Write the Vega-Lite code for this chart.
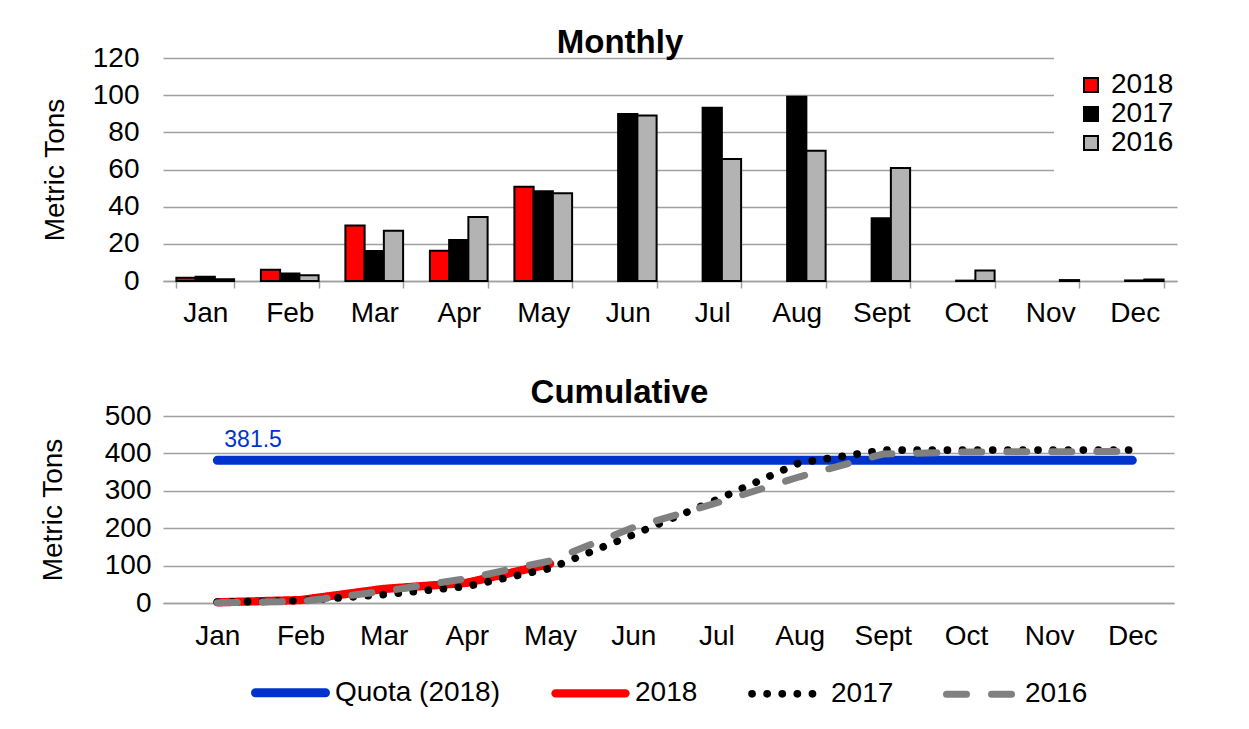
{
  "$schema": "https://vega.github.io/schema/vega-lite/v6.json",
  "background": "white",
  "padding": {"left": 39, "top": 27, "right": 0, "bottom": 0},
  "config": {
    "font": "Liberation Sans",
    "view": {"stroke": null},
    "axis": {
      "labelFont": "Liberation Sans",
      "labelFontSize": 28,
      "labelColor": "#000000",
      "titleFont": "Liberation Sans",
      "titleFontSize": 28,
      "titleFontWeight": "normal",
      "titleColor": "#000000",
      "gridColor": "#a0a0a0",
      "gridWidth": 1.5,
      "domainColor": "#a0a0a0",
      "domainWidth": 1.5,
      "tickColor": "#a0a0a0",
      "tickWidth": 1.5
    },
    "legend": {"labelFont": "Liberation Sans", "labelFontSize": 28, "labelColor": "#000000", "labelLimit": 400},
    "title": {"font": "Liberation Sans", "fontSize": 33, "fontWeight": "bold", "color": "#000000"}
  },
  "datasets": {
    "monthly": [
      {"month": "Jan", "year": "2018", "tons": 1.8},
      {"month": "Jan", "year": "2017", "tons": 2.3},
      {"month": "Jan", "year": "2016", "tons": 0.9},
      {"month": "Feb", "year": "2018", "tons": 6.0},
      {"month": "Feb", "year": "2017", "tons": 4.0},
      {"month": "Feb", "year": "2016", "tons": 3.1},
      {"month": "Mar", "year": "2018", "tons": 29.8},
      {"month": "Mar", "year": "2017", "tons": 16.1},
      {"month": "Mar", "year": "2016", "tons": 27.1},
      {"month": "Apr", "year": "2018", "tons": 16.3},
      {"month": "Apr", "year": "2017", "tons": 22.0},
      {"month": "Apr", "year": "2016", "tons": 34.5},
      {"month": "May", "year": "2018", "tons": 50.7},
      {"month": "May", "year": "2017", "tons": 48.3},
      {"month": "May", "year": "2016", "tons": 47.2},
      {"month": "Jun", "year": "2017", "tons": 89.9},
      {"month": "Jun", "year": "2016", "tons": 89.0},
      {"month": "Jul", "year": "2017", "tons": 93.2},
      {"month": "Jul", "year": "2016", "tons": 65.6},
      {"month": "Aug", "year": "2017", "tons": 99.1},
      {"month": "Aug", "year": "2016", "tons": 70.1},
      {"month": "Sept", "year": "2017", "tons": 33.7},
      {"month": "Sept", "year": "2016", "tons": 60.8},
      {"month": "Oct", "year": "2017", "tons": 0.2},
      {"month": "Oct", "year": "2016", "tons": 5.6},
      {"month": "Nov", "year": "2016", "tons": 0.5},
      {"month": "Dec", "year": "2017", "tons": 0.3},
      {"month": "Dec", "year": "2016", "tons": 0.8}
    ],
    "cumulative": [
      {"month": "Jan", "series": "Quota (2018)", "value": 381.5},
      {"month": "Feb", "series": "Quota (2018)", "value": 381.5},
      {"month": "Mar", "series": "Quota (2018)", "value": 381.5},
      {"month": "Apr", "series": "Quota (2018)", "value": 381.5},
      {"month": "May", "series": "Quota (2018)", "value": 381.5},
      {"month": "Jun", "series": "Quota (2018)", "value": 381.5},
      {"month": "Jul", "series": "Quota (2018)", "value": 381.5},
      {"month": "Aug", "series": "Quota (2018)", "value": 381.5},
      {"month": "Sept", "series": "Quota (2018)", "value": 381.5},
      {"month": "Oct", "series": "Quota (2018)", "value": 381.5},
      {"month": "Nov", "series": "Quota (2018)", "value": 381.5},
      {"month": "Dec", "series": "Quota (2018)", "value": 381.5},
      {"month": "Jan", "series": "2018", "value": 1.8},
      {"month": "Feb", "series": "2018", "value": 7.8},
      {"month": "Mar", "series": "2018", "value": 37.6},
      {"month": "Apr", "series": "2018", "value": 53.9},
      {"month": "May", "series": "2018", "value": 104.6},
      {"month": "Jan", "series": "2017", "value": 2.3},
      {"month": "Feb", "series": "2017", "value": 6.3},
      {"month": "Mar", "series": "2017", "value": 22.4},
      {"month": "Apr", "series": "2017", "value": 44.4},
      {"month": "May", "series": "2017", "value": 92.7},
      {"month": "Jun", "series": "2017", "value": 182.6},
      {"month": "Jul", "series": "2017", "value": 275.8},
      {"month": "Aug", "series": "2017", "value": 374.9},
      {"month": "Sept", "series": "2017", "value": 408.6},
      {"month": "Oct", "series": "2017", "value": 408.8},
      {"month": "Nov", "series": "2017", "value": 408.8},
      {"month": "Dec", "series": "2017", "value": 409.1},
      {"month": "Jan", "series": "2016", "value": 0.9},
      {"month": "Feb", "series": "2016", "value": 4.0},
      {"month": "Mar", "series": "2016", "value": 31.1},
      {"month": "Apr", "series": "2016", "value": 65.6},
      {"month": "May", "series": "2016", "value": 112.8},
      {"month": "Jun", "series": "2016", "value": 201.8},
      {"month": "Jul", "series": "2016", "value": 267.4},
      {"month": "Aug", "series": "2016", "value": 337.5},
      {"month": "Sept", "series": "2016", "value": 398.3},
      {"month": "Oct", "series": "2016", "value": 403.9},
      {"month": "Nov", "series": "2016", "value": 404.4},
      {"month": "Dec", "series": "2016", "value": 405.2}
    ]
  },
  "columns": 1,
  "spacing": 50,
  "resolve": {
    "scale": {"x": "independent", "y": "independent", "color": "independent", "strokeDash": "independent", "strokeWidth": "independent"},
    "legend": {"color": "independent", "strokeDash": "independent", "strokeWidth": "independent"}
  },
  "concat": [
    {
      "width": 1014,
      "height": 223,
      "title": {"text": "Monthly", "baseline": "alphabetic", "offset": -42, "dx": -50},
      "data": {"name": "monthly"},
      "mark": {"type": "bar", "stroke": "#000000", "strokeWidth": 2},
      "encoding": {
        "x": {
          "field": "month", "type": "nominal",
          "sort": ["Jan", "Feb", "Mar", "Apr", "May", "Jun", "Jul", "Aug", "Sept", "Oct", "Nov", "Dec"],
          "scale": {"paddingInner": 0.317, "paddingOuter": 0.1585},
          "axis": {"title": null, "labelAngle": 0, "tickBand": "extent", "ticks": true, "tickSize": 7, "labelPadding": 11, "grid": false}
        },
        "xOffset": {
          "field": "year", "type": "nominal",
          "sort": ["2018", "2017", "2016"],
          "scale": {"domain": ["2018", "2017", "2016"], "paddingInner": 0, "paddingOuter": 0}
        },
        "y": {
          "field": "tons", "type": "quantitative",
          "scale": {"domain": [0, 120], "nice": false},
          "axis": {"title": "Metric Tons", "values": [0, 20, 40, 60, 80, 100, 120], "ticks": false, "domain": false, "labelPadding": 24, "titlePadding": 23, "grid": true}
        },
        "color": {
          "field": "year", "type": "nominal",
          "scale": {"domain": ["2018", "2017", "2016"], "range": ["#FF0000", "#000000", "#B3B3B3"]},
          "legend": {
            "title": null, "orient": "none", "legendX": 891, "legendY": -2,
            "fillColor": "#FFFFFF", "padding": 15, "symbolOffset": 8,
            "symbolType": "square", "symbolSize": 196, "symbolStrokeColor": "#000000", "symbolStrokeWidth": 2,
            "labelOffset": 6, "rowPadding": 1
          }
        }
      }
    },
    {
      "width": 1011,
      "height": 187,
      "title": {"text": "Cumulative", "baseline": "alphabetic", "offset": -34, "dx": -49},
      "data": {"name": "cumulative"},
      "encoding": {
        "x": {
          "field": "month", "type": "nominal",
          "sort": ["Jan", "Feb", "Mar", "Apr", "May", "Jun", "Jul", "Aug", "Sept", "Oct", "Nov", "Dec"],
          "scale": {"type": "point", "padding": 0.577, "align": 0.566},
          "axis": {"title": null, "labelAngle": 0, "ticks": false, "labelPadding": 19, "grid": false}
        },
        "y": {
          "field": "value", "type": "quantitative",
          "scale": {"domain": [0, 500], "nice": false},
          "axis": {"title": "Metric Tons", "values": [0, 100, 200, 300, 400, 500], "ticks": false, "domain": false, "labelPadding": 12, "titlePadding": 37, "grid": true}
        }
      },
      "layer": [
        {
          "mark": {"type": "line", "strokeCap": "round", "strokeJoin": "round"},
          "encoding": {
            "color": {
              "field": "series", "type": "nominal",
              "scale": {"domain": ["Quota (2018)", "2018", "2017", "2016"], "range": ["#0033CC", "#FF0000", "#000000", "#808080"]},
              "legend": {
                "title": null, "orient": "none", "legendX": 88, "legendY": 237, "direction": "horizontal", "padding": 0,
                "symbolType": "stroke", "symbolSize": 4900, "labelOffset": 5, "columnPadding": 38,
                "encoding": {"symbols": {"strokeCap": {"value": "round"}}}
              }
            },
            "strokeDash": {
              "field": "series", "type": "nominal",
              "scale": {"domain": ["Quota (2018)", "2018", "2017", "2016"], "range": [[1, 0], [1, 0], [0.1, 15], [20, 25]]},
              "legend": {
                "title": null, "orient": "none", "legendX": 88, "legendY": 237, "direction": "horizontal", "padding": 0,
                "symbolType": "stroke", "symbolSize": 4900, "labelOffset": 5, "columnPadding": 38,
                "encoding": {"symbols": {"strokeCap": {"value": "round"}}}
              }
            },
            "strokeWidth": {
              "field": "series", "type": "ordinal",
              "scale": {"domain": ["Quota (2018)", "2018", "2017", "2016"], "range": [9, 7, 6, 6]},
              "legend": {
                "title": null, "orient": "none", "legendX": 88, "legendY": 237, "direction": "horizontal", "padding": 0,
                "symbolType": "stroke", "symbolSize": 4900, "labelOffset": 5, "columnPadding": 38,
                "encoding": {"symbols": {"strokeCap": {"value": "round"}}}
              }
            }
          }
        },
        {
          "transform": [{"filter": "datum.series === 'Quota (2018)' && datum.month === 'Jan'"}],
          "mark": {"type": "text", "align": "left", "baseline": "middle", "dx": 7, "dy": -20, "fontSize": 23, "color": "#0033CC"},
          "encoding": {
            "text": {"field": "value", "type": "quantitative", "format": ".1f"}
          }
        }
      ]
    }
  ]
}
